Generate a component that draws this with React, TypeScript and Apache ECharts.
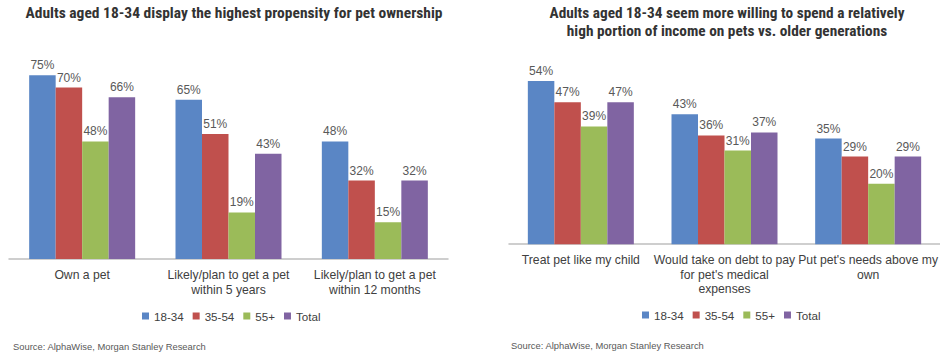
import React, { useEffect, useRef } from "react";
import * as echarts from "echarts";

const seriesNames = ["18-34", "35-54", "55+", "Total"];
const colors = ["#5a86c5", "#c0504d", "#9bbb59", "#8064a2"];

const leftTitle = "Adults aged 18-34 display the highest propensity for pet ownership";
const leftCategories = [
  "Own a pet",
  "Likely/plan to get a pet\nwithin 5 years",
  "Likely/plan to get a pet\nwithin 12 months",
];
const left1834 = [75, 65, 48];
const left3554 = [70, 51, 32];
const left55 = [48, 19, 15];
const leftTotal = [66, 43, 32];

const rightTitle =
  "Adults aged 18-34 seem more willing to spend a relatively\nhigh portion of income on pets vs. older generations";
const rightCategories = [
  "Treat pet like my child",
  "Would take on debt to pay\nfor pet's medical\nexpenses",
  "Put pet's needs above my\nown",
];
const right1834 = [54, 43, 35];
const right3554 = [47, 36, 29];
const right55 = [39, 31, 20];
const rightTotal = [47, 37, 29];

const sourceText = "Source: AlphaWise, Morgan Stanley Research";

const FONT = "Arial, 'Liberation Sans', Helvetica, sans-serif";
const TITLE_FONT = "'Liberation Sans Narrow', 'Arial Narrow', 'Roboto Condensed', 'DejaVu Sans Condensed', Arial, sans-serif";

export default function App() {
  const ref = useRef<HTMLDivElement>(null);

  useEffect(() => {
    if (!ref.current) return;
    const chart = echarts.init(ref.current, undefined, { renderer: "svg" });
    const leftData = [left1834, left3554, left55, leftTotal];
    const rightData = [right1834, right3554, right55, rightTotal];

    const mkSeries = (data: number[][], idx: number) =>
      data.map((d, i) => ({
        name: seriesNames[i],
        type: "bar",
        xAxisIndex: idx,
        yAxisIndex: idx,
        data: d,
        barWidth: 26.5,
        barGap: "0%",
        itemStyle: { color: colors[i] },
        label: {
          show: true,
          position: "top",
          distance: 4,
          formatter: "{c}%",
          color: "#595959",
          fontSize: 12,
          fontFamily: FONT,
        },
      }));

    const axisLabel = {
      color: "#404040",
      fontSize: 12.2,
      fontFamily: FONT,
      lineHeight: 14.5,
      margin: 9,
      interval: 0,
    };

    const legendCommon = {
      data: seriesNames,
      icon: "rect",
      itemWidth: 7,
      itemHeight: 7,
      itemGap: 9,
      textStyle: { color: "#404040", fontSize: 11.6, fontFamily: FONT },
      orient: "horizontal",
    };

    chart.setOption({
      animation: false,
      backgroundColor: "#ffffff",
      title: [
        {
          text: leftTitle,
          left: 229,
          textAlign: "center",
          top: 0,
          textStyle: {
            fontFamily: TITLE_FONT,
            fontWeight: "bold",
            fontSize: 15.5,
            color: "#333333",
          },
        },
        {
          text: rightTitle,
          left: 722,
          textAlign: "center",
          top: -1,
          textStyle: {
            fontFamily: TITLE_FONT,
            fontWeight: "bold",
            fontSize: 15.3,
            lineHeight: 18,
            color: "#333333",
          },
        },
        {
          text: sourceText,
          left: 8,
          top: 337,
          textStyle: { fontFamily: FONT, fontWeight: "normal", fontSize: 9.4, color: "#595959" },
        },
        {
          text: sourceText,
          left: 506,
          top: 336,
          textStyle: { fontFamily: FONT, fontWeight: "normal", fontSize: 9.4, color: "#595959" },
        },
      ],
      legend: [
        { ...legendCommon, left: 137, top: 305 },
        { ...legendCommon, left: 637, top: 304 },
      ],
      grid: [
        { left: 9, width: 439, top: 63, height: 196 },
        { left: 509, width: 439.5, top: 63, height: 181.2 },
      ],
      xAxis: [
        {
          type: "category",
          gridIndex: 0,
          data: leftCategories,
          axisLine: { lineStyle: { color: "#bfbfbf", width: 1.5 } },
          axisTick: { show: false },
          axisLabel,
        },
        {
          type: "category",
          gridIndex: 1,
          data: rightCategories,
          axisLine: { lineStyle: { color: "#bfbfbf", width: 1.5 } },
          axisTick: { show: false },
          axisLabel,
        },
      ],
      yAxis: [
        { type: "value", gridIndex: 0, min: 0, max: 80, show: false, splitLine: { show: false } },
        { type: "value", gridIndex: 1, min: 0, max: 60, show: false, splitLine: { show: false } },
      ],
      series: [...mkSeries(leftData, 0), ...mkSeries(rightData, 1)],
    });

    return () => chart.dispose();
  }, []);

  return (
    <div
      ref={ref}
      style={{ position: "absolute", left: 0, top: 0, width: 940, height: 356, overflow: "hidden" }}
    />
  );
}
